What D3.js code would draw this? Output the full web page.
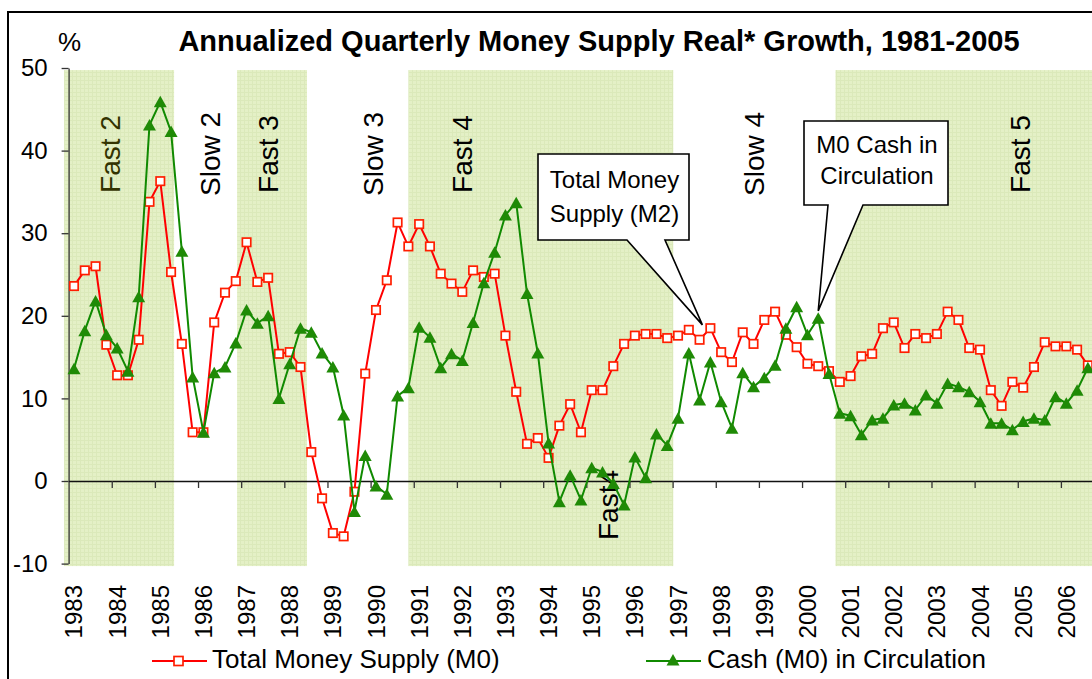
<!DOCTYPE html>
<html>
<head>
<meta charset="utf-8">
<script src="https://cdn.jsdelivr.net/npm/d3@7"></script>
<style>
  body { margin: 0; background: #fff; }
  svg { display: block; font-family: "Liberation Sans", Arial, sans-serif; }
</style>
</head>
<body>
<svg width="1092" height="679"></svg>
<script>

// Quarterly observations, first one is 1983 Q1
var startYear = 1983;
var yearLabels = [1983, 1984, 1985, 1986, 1987, 1988, 1989, 1990, 1991, 1992, 1993, 1994,
  1995, 1996, 1997, 1998, 1999, 2000, 2001, 2002, 2003, 2004, 2005, 2006];
var yTicks = [-10, 0, 10, 20, 30, 40, 50];

// Total money supply, % annualized real growth
var m2Growth = [23.6, 25.5, 26.0, 16.5, 12.8, 12.8, 17.1, 33.8, 36.3, 25.3,
  16.6, 5.9, 5.9, 19.2, 22.8, 24.2, 28.9, 24.1, 24.6, 15.4,
  15.6, 13.8, 3.5, -2.1, -6.3, -6.7, -1.3, 13.0, 20.7, 24.3,
  31.3, 28.4, 31.1, 28.4, 25.1, 23.9, 22.9, 25.5, 24.7, 25.1,
  17.6, 10.8, 4.5, 5.2, 2.8, 6.7, 9.3, 5.9, 11.0, 11.0,
  13.9, 16.6, 17.6, 17.8, 17.8, 17.3, 17.6, 18.3, 17.1, 18.5,
  15.6, 14.4, 18.0, 16.6, 19.5, 20.5, 17.7, 16.2, 14.2, 13.9,
  13.3, 12.0, 12.7, 15.1, 15.4, 18.5, 19.2, 16.1, 17.8, 17.3,
  17.8, 20.5, 19.5, 16.1, 15.9, 11.0, 9.1, 12.0, 11.3, 13.8,
  16.8, 16.3, 16.3, 15.9, 14.0];

// Cash (M0) in circulation
var m0Growth = [13.6, 18.2, 21.8, 17.7, 16.1, 13.3, 22.3, 43.1, 45.9, 42.3,
  27.8, 12.6, 5.9, 13.1, 13.8, 16.7, 20.7, 19.1, 20.0, 10.0,
  14.2, 18.5, 18.0, 15.5, 13.8, 8.0, -3.7, 3.1, -0.6, -1.6,
  10.3, 11.3, 18.6, 17.4, 13.7, 15.4, 14.6, 19.2, 24.0, 27.7,
  32.2, 33.7, 22.7, 15.5, 4.6, -2.5, 0.7, -2.3, 1.6, 1.1,
  -0.3, -2.9, 2.9, 0.4, 5.7, 4.3, 7.6, 15.5, 9.8, 14.4,
  9.6, 6.4, 13.1, 11.4, 12.5, 14.0, 18.5, 21.1, 17.7, 19.7,
  13.0, 8.2, 7.9, 5.6, 7.4, 7.6, 9.2, 9.4, 8.6, 10.4,
  9.4, 11.8, 11.4, 10.8, 9.6, 7.0, 7.0, 6.2, 7.2, 7.6,
  7.4, 10.2, 9.4, 11.0, 13.7];

// "fast" growth periods (decimal years)
var fastFrom = [1982.77, 1986.78, 1990.75, 2000.65];
var fastTo = [1985.32, 1988.40, 1996.89, 2008.0];

// period names, placed at a decimal year
var periodNames = ["Fast 2", "Slow 2", "Fast 3", "Slow 3", "Fast 4", "Slow 4", "Fast 5", "Fast4"];
var periodAt = [1983.84, 1986.15, 1987.49, 1989.93, 1992.0, 1998.77, 2004.93, 1995.37];
var periodLow = [false, false, false, false, false, false, false, true];


var svg = d3.select("svg");

// Scales
var x = d3.scaleLinear()
  .domain([1982.875, 2008])
  .range([68.6, 1152.6]);
var y = d3.scaleLinear()
  .domain([-10, 50])
  .range([563.6, 68]);

function qx(i) { return x(startYear + i / 4); }

// Frame of the slide
svg.append("path")
  .attr("d", "M8,679 V12 H1092")
  .attr("fill", "none")
  .attr("stroke", "#000")
  .attr("stroke-width", 2);

// light grid texture for the shaded periods
var pat = svg.append("defs").append("pattern")
  .attr("id", "shade")
  .attr("width", 4)
  .attr("height", 4)
  .attr("patternUnits", "userSpaceOnUse");
pat.append("rect").attr("width", 4).attr("height", 4).attr("fill", "#e4f0c6");
pat.append("path").attr("d", "M0,0.5 H4 M0.5,0 V4")
  .attr("stroke", "#dbe9ba").attr("stroke-width", 1);

svg.append("g")
  .selectAll("rect")
  .data(fastFrom)
  .enter().append("rect")
  .attr("x", function (d) { return x(d); })
  .attr("width", function (d, i) { return x(fastTo[i]) - x(d); })
  .attr("y", y(49.75))
  .attr("height", y(-10.3) - y(49.75))
  .attr("fill", "url(#shade)");

// period names
svg.append("g")
  .selectAll("text")
  .data(periodNames)
  .enter().append("text")
  .attr("transform", function (d, i) {
    var cy = periodLow[i] ? 505 : 154;
    return "translate(" + (x(periodAt[i]) + 10) + "," + cy + ") rotate(-90)";
  })
  .attr("text-anchor", "middle")
  .style("font-size", "28px")
  .attr("fill", function (d) { return d == "Fast 2" ? "#333300" : "#000"; })
  .text(function (d) { return d; });

// Y axis
var yAxis = svg.append("g")
  .attr("transform", "translate(" + x(1982.875) + ",0)")
  .call(d3.axisLeft(y).tickValues(yTicks).tickSize(7).tickSizeOuter(0).tickPadding(14)
    .tickFormat(function (d) { return String(d); }));
yAxis.select(".domain").attr("stroke", "#333").attr("stroke-width", 1.3);
yAxis.selectAll(".tick line").attr("stroke", "#333").attr("stroke-width", 1.3);
yAxis.selectAll("text")
  .style("font-size", "24px")
  .style("font-family", "Liberation Sans, Arial, sans-serif")
  .attr("fill", "#000");

// X axis along zero, ticks between years
var boundaries = yearLabels.map(function (d) { return d + 1 - 0.125; });
var xAxis = svg.append("g")
  .attr("transform", "translate(0," + y(0) + ")")
  .call(d3.axisBottom(x).tickValues(boundaries).tickSize(7).tickSizeOuter(0).tickFormat(""));
xAxis.select(".domain").attr("stroke", "#111").attr("stroke-width", 1.3);
xAxis.selectAll(".tick line").attr("stroke", "#333").attr("stroke-width", 1.3);

// year labels under the plot
svg.append("g")
  .selectAll("text")
  .data(yearLabels)
  .enter().append("text")
  .attr("transform", function (d) { return "translate(" + (x(d) + 8.5) + ",585) rotate(-90)"; })
  .attr("text-anchor", "end")
  .style("font-size", "24px")
  .text(function (d) { return d; });

// % label
svg.append("text")
  .attr("x", 58)
  .attr("y", 51)
  .style("font-size", "26px")
  .text("%");

// Series
var line = d3.line()
  .x(function (d, i) { return qx(i); })
  .y(function (d) { return y(d); });

var redLine = "#ff0000", redMark = "#ff1e00";
var greenLine = "#108a00", greenMark = "#1f8a06";

function triangle(cx, cy) {
  return "M" + cx + "," + (cy - 6) + " L" + (cx + 6.5) + "," + (cy + 5.5) + " L" + (cx - 6.5) + "," + (cy + 5.5) + " Z";
}

svg.append("path")
  .datum(m2Growth)
  .attr("d", line)
  .attr("fill", "none")
  .attr("stroke", redLine)
  .attr("stroke-width", 2);

svg.append("g")
  .selectAll("rect")
  .data(m2Growth)
  .enter().append("rect")
  .attr("x", function (d, i) { return qx(i) - 4.2; })
  .attr("y", function (d) { return y(d) - 4.2; })
  .attr("width", 8.4)
  .attr("height", 8.4)
  .attr("fill", "#fff")
  .attr("stroke", redMark)
  .attr("stroke-width", 1.7);

svg.append("path")
  .datum(m0Growth)
  .attr("d", line)
  .attr("fill", "none")
  .attr("stroke", greenLine)
  .attr("stroke-width", 2);

svg.append("g")
  .selectAll("path")
  .data(m0Growth)
  .enter().append("path")
  .attr("d", function (d, i) { return triangle(qx(i), y(d)); })
  .attr("fill", greenMark);

// Callouts
function callout(box, tip, wedge, lines, lineY) {
  var g = svg.append("g");
  var d = "M" + box[0] + "," + box[1] + " H" + box[2] + " V" + box[3] +
    " H" + wedge[1] + " L" + tip[0] + "," + tip[1] + " L" + wedge[0] + "," + box[3] +
    " H" + box[0] + " Z";
  g.append("path")
    .attr("d", d)
    .attr("fill", "#fff")
    .attr("stroke", "#000")
    .attr("stroke-width", 1.6);
  g.selectAll("text")
    .data(lines)
    .enter().append("text")
    .attr("x", (box[0] + box[2]) / 2 + 1)
    .attr("y", function (t, i) { return lineY[i]; })
    .attr("text-anchor", "middle")
    .style("font-size", "24px")
    .text(function (t) { return t; });
}

callout([538, 154, 689, 240], [qx(58.26), y(18.9)], [627, 665],
  ["Total Money", "Supply (M2)"], [188, 222]);
callout([804, 121, 948, 205], [qx(69), y(20.6)], [828, 863],
  ["M0 Cash in", "Circulation"], [153, 184]);

// Legend
var legend = svg.append("g");
legend.append("line")
  .attr("x1", 152).attr("x2", 207).attr("y1", 661).attr("y2", 661)
  .attr("stroke", redLine).attr("stroke-width", 2);
legend.append("rect")
  .attr("x", 174).attr("y", 656.5).attr("width", 9).attr("height", 9)
  .attr("fill", "#fff").attr("stroke", redMark).attr("stroke-width", 1.7);
legend.append("text")
  .attr("x", 212).attr("y", 668)
  .style("font-size", "26px")
  .text("Total Money Supply (M0)");

legend.append("line")
  .attr("x1", 646).attr("x2", 701).attr("y1", 661).attr("y2", 661)
  .attr("stroke", greenLine).attr("stroke-width", 2);
legend.append("path")
  .attr("d", triangle(673, 660))
  .attr("fill", greenMark);
legend.append("text")
  .attr("x", 707).attr("y", 668)
  .style("font-size", "26px")
  .text("Cash (M0) in Circulation");

// Title
svg.append("text")
  .attr("x", 599)
  .attr("y", 51)
  .attr("text-anchor", "middle")
  .style("font-size", "29px")
  .style("font-weight", "bold")
  .text("Annualized Quarterly Money Supply Real* Growth, 1981-2005");

</script>
</body>
</html>
